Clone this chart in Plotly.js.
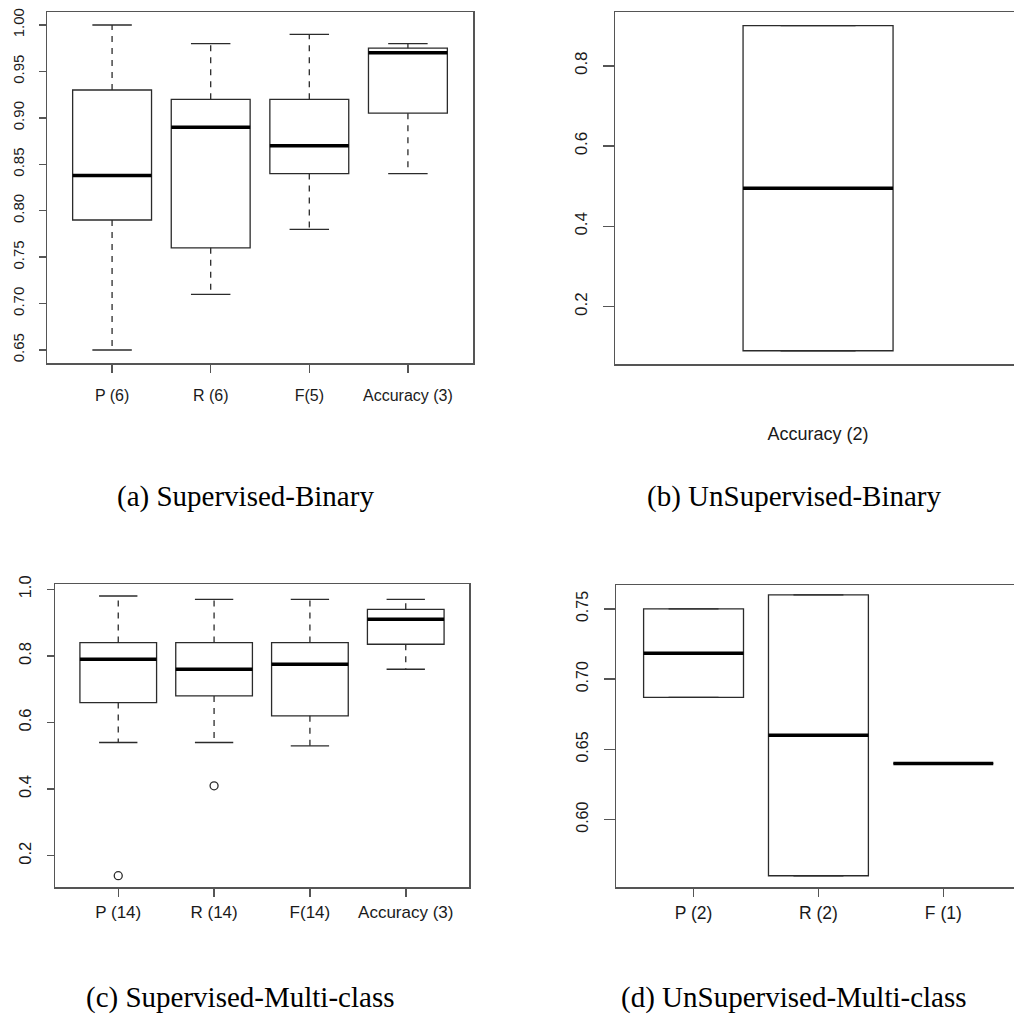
<!DOCTYPE html>
<html>
<head>
<meta charset="utf-8">
<script src="https://cdn.plot.ly/plotly-3.0.1.min.js"></script>
<style>html,body{margin:0;padding:0;background:#fff;overflow:hidden}#chart{width:1014px;height:1018px}</style>
</head>
<body>
<div id="chart"></div>
<script>
// ---------- data ----------
// (a) Supervised-Binary
const labelsA = ['P (6)', 'R (6)', 'F(5)', 'Accuracy (3)'];
const lowA  = [0.65, 0.71, 0.78, 0.84];
const q1A   = [0.79, 0.76, 0.84, 0.905];
const medA  = [0.838, 0.89, 0.87, 0.97];
const q3A   = [0.93, 0.92, 0.92, 0.975];
const highA = [1.00, 0.98, 0.99, 0.98];
const yTicksA = [0.65, 0.70, 0.75, 0.80, 0.85, 0.90, 0.95, 1.00];

// (b) UnSupervised-Binary
const labelsB = ['Accuracy (2)'];
const lowB  = [0.09];
const q1B   = [0.09];
const medB  = [0.495];
const q3B   = [0.90];
const highB = [0.90];
const yTicksB = [0.2, 0.4, 0.6, 0.8];

// (c) Supervised-Multi-class
const labelsC = ['P (14)', 'R (14)', 'F(14)', 'Accuracy (3)'];
const lowC  = [0.54, 0.54, 0.53, 0.76];
const q1C   = [0.66, 0.68, 0.62, 0.835];
const medC  = [0.79, 0.76, 0.775, 0.91];
const q3C   = [0.84, 0.84, 0.84, 0.94];
const highC = [0.98, 0.97, 0.97, 0.97];
const outlierGroupC = [0, 1];
const outlierValueC = [0.14, 0.41];
const yTicksC = [0.2, 0.4, 0.6, 0.8, 1.0];

// (d) UnSupervised-Multi-class
const labelsD = ['P (2)', 'R (2)', 'F (1)'];
const lowD  = [0.687, 0.56, 0.64];
const q1D   = [0.687, 0.56, 0.64];
const medD  = [0.7185, 0.66, 0.64];
const q3D   = [0.75, 0.76, 0.64];
const highD = [0.75, 0.76, 0.64];
const yTicksD = [0.60, 0.65, 0.70, 0.75];

const captions = ['(a) Supervised-Binary', '(b) UnSupervised-Binary',
                  '(c) Supervised-Multi-class', '(d) UnSupervised-Multi-class'];

// ---------- styles ----------
const BOXW = 0.8, CAPW = 0.4;
const BOXCOL = '#2b2b2b', FRAME = '#555555', TXT = '#1a1a1a';
const SANS = 'Liberation Sans, Arial, Helvetica, sans-serif';
const SERIF = 'Liberation Serif, Times New Roman, serif';

function panel(xa, ya, labels, low, q1, med, q3, high) {
  const pos = labels.map((_, i) => i + 1);
  const traces = [];
  traces.push({
    type: 'box', xaxis: xa, yaxis: ya, x: pos,
    q1: q1, median: med, q3: q3, lowerfence: q1, upperfence: q3,
    width: BOXW, whiskerwidth: 0,
    line: {color: BOXCOL, width: 1.3}, fillcolor: 'rgba(255,255,255,0)',
    hoverinfo: 'skip', showlegend: false
  });
  const wx = [], wy = [], cx = [], cy = [], mx = [], my = [];
  pos.forEach((p, i) => {
    wx.push(p, p, null, p, p, null);
    wy.push(q3[i], high[i], null, q1[i], low[i], null);
    cx.push(p - CAPW / 2, p + CAPW / 2, null, p - CAPW / 2, p + CAPW / 2, null);
    cy.push(high[i], high[i], null, low[i], low[i], null);
    mx.push(p - BOXW / 2, p + BOXW / 2, null);
    my.push(med[i], med[i], null);
  });
  traces.push({type: 'scatter', mode: 'lines', xaxis: xa, yaxis: ya, x: wx, y: wy,
    line: {color: BOXCOL, width: 1.3, dash: '6px,6px'}, hoverinfo: 'skip', showlegend: false});
  traces.push({type: 'scatter', mode: 'lines', xaxis: xa, yaxis: ya, x: cx, y: cy,
    line: {color: BOXCOL, width: 1.3}, hoverinfo: 'skip', showlegend: false});
  traces.push({type: 'scatter', mode: 'lines', xaxis: xa, yaxis: ya, x: mx, y: my,
    line: {color: '#000', width: 3.5}, hoverinfo: 'skip', showlegend: false});
  return traces;
}

let data = [];
data = data.concat(panel('x', 'y', labelsA, lowA, q1A, medA, q3A, highA));
data = data.concat(panel('x2', 'y2', labelsB, lowB, q1B, medB, q3B, highB));
data = data.concat(panel('x3', 'y3', labelsC, lowC, q1C, medC, q3C, highC));
data = data.concat(panel('x4', 'y4', labelsD, lowD, q1D, medD, q3D, highD));
data.push({type: 'scatter', mode: 'markers', xaxis: 'x3', yaxis: 'y3',
  x: outlierGroupC.map(g => g + 1), y: outlierValueC,
  marker: {symbol: 'circle-open', size: 8, color: BOXCOL, line: {width: 1.3, color: BOXCOL}},
  hoverinfo: 'skip', showlegend: false});

// ---------- layout helpers ----------
const W = 1014, H = 1018;
const dx = (l, r) => [l / W, r / W];
const dy = (t, b) => [1 - b / H, 1 - t / H];

function xAxis(domain, range, labels, o) {
  return Object.assign({
    domain: domain, range: range, anchor: o.anchor,
    tickmode: 'array', tickvals: labels.map((_, i) => i + 1), ticktext: labels,
    ticks: 'outside', ticklen: 8, tickwidth: 1.5, tickcolor: FRAME,
    showline: true, linecolor: FRAME, linewidth: 1.5, mirror: true,
    showgrid: false, zeroline: false, fixedrange: true,
    tickfont: {family: SANS, size: o.size, color: TXT}
  }, o.extra || {});
}
function yAxis(domain, range, ticks, fmt, o) {
  return Object.assign({
    domain: domain, range: range, anchor: o.anchor,
    tickmode: 'array', tickvals: ticks, ticktext: ticks.map(v => v.toFixed(fmt)),
    ticks: 'outside', ticklen: o.ticklen, tickwidth: 1.5, tickcolor: FRAME, tickangle: -90,
    showline: true, linecolor: FRAME, linewidth: 1.5, mirror: o.mirror,
    showgrid: false, zeroline: false, fixedrange: true,
    ticklabelstandoff: o.standoff,
    tickfont: {family: SANS, size: o.size, color: TXT}
  }, o.extra || {});
}

const layout = {
  width: W, height: H, margin: {l: 0, r: 0, t: 0, b: 0},
  paper_bgcolor: '#fff', plot_bgcolor: '#fff', showlegend: false,
  xaxis:  xAxis(dx(47, 473), [0.34, 4.66], labelsA, {anchor: 'y', size: 16, extra: {ticklabelstandoff: 9}}),
  yaxis:  yAxis(dy(12, 363), [0.636, 1.014], yTicksA, 2, {anchor: 'x', size: 15, ticklen: 7, mirror: true, standoff: 9}),
  xaxis2: xAxis(dx(615, 1014), [-0.083, 2.045], labelsB, {anchor: 'y2', size: 18, extra: {ticks: '', ticklabelstandoff: 53}}),
  yaxis2: yAxis(dy(12, 364), [0.057, 0.934], yTicksB, 1, {anchor: 'x2', size: 17, ticklen: 11, mirror: false, standoff: 9}),
  xaxis3: xAxis(dx(55, 469), [0.34, 4.66], labelsC, {anchor: 'y3', size: 17, extra: {ticklabelstandoff: 1}}),
  yaxis3: yAxis(dy(584, 887), [0.106, 1.016], yTicksC, 1, {anchor: 'x3', size: 16.5, ticklen: 7, mirror: true, standoff: 9}),
  xaxis4: xAxis(dx(616, 1014), [0.379, 3.566], labelsD, {anchor: 'y4', size: 17.5, extra: {ticklabelstandoff: 1}}),
  yaxis4: yAxis(dy(585, 887), [0.552, 0.767], yTicksD, 2, {anchor: 'x4', size: 16, ticklen: 11, mirror: false, standoff: 9}),
  annotations: [
    [245, 497], [794, 497], [240, 997], [794, 997]
  ].map((p, i) => ({
    xref: 'paper', yref: 'paper', x: p[0] / W, y: 1 - p[1] / H,
    xanchor: 'center', yanchor: 'middle', showarrow: false,
    text: captions[i], font: {family: SERIF, size: 29, color: '#000'}
  }))
};

Plotly.newPlot('chart', data, layout, {staticPlot: true, displayModeBar: false});
</script>
</body>
</html>
